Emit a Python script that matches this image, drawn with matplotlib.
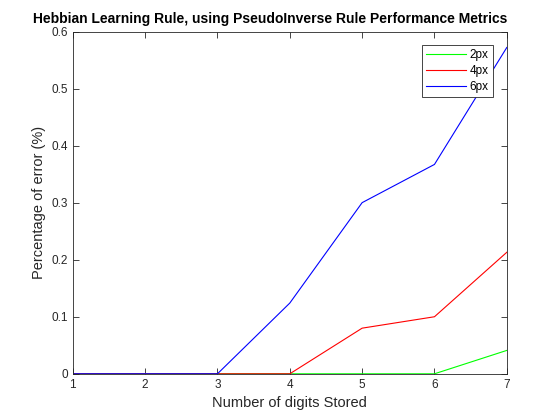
import matplotlib
matplotlib.use('Agg')
from matplotlib import pyplot as plt

plt.rcParams['font.family'] = ['Liberation Sans', 'DejaVu Sans']

digits = [1, 2, 3, 4, 5, 6, 7]
err_2px = [0, 0, 0, 0, 0, 0, 0.041]
err_4px = [0, 0, 0, 0, 0.080, 0.100, 0.213]
err_6px = [0, 0, 0, 0.124, 0.300, 0.367, 0.572]

fig = plt.figure(figsize=(5.6, 4.2), dpi=100)
ax = fig.add_axes([0.13, 0.11, 0.775, 0.815])

ax.plot(digits, err_2px, color='#00ff00', lw=0.8, label='2px')
ax.plot(digits, err_4px, color='#ff0000', lw=0.8, label='4px')
ax.plot(digits, err_6px, color='#0000ff', lw=0.8, label='6px')

ax.set_xlim(1, 7)
ax.set_ylim(0, 0.6)
ax.set_xticks(digits)
ax.set_yticks([0, 0.1, 0.2, 0.3, 0.4, 0.5, 0.6])
ax.set_yticklabels(['0', '0.1', '0.2', '0.3', '0.4', '0.5', '0.6'])
ax.tick_params(direction='in', length=4, width=0.6, labelsize=8.5, colors='#262626',
               top=True, right=True)
for s in ax.spines.values():
    s.set_linewidth(0.6)
    s.set_color('#262626')

ax.set_xlabel('Number of digits Stored', fontsize=10.5, color='#262626')
ax.set_ylabel('Percentage of error (%)', fontsize=10.5, color='#262626')
ax.set_title('Hebbian Learning Rule, using PseudoInverse Rule Performance Metrics',
             fontsize=10, fontweight='bold', pad=6, x=0.454)

leg = ax.legend(loc='upper right', bbox_to_anchor=(0.968, 0.962), fontsize=8.5,
                fancybox=False, framealpha=1, edgecolor='#262626', borderaxespad=0,
                handlelength=3.4, handletextpad=0.3, labelspacing=0.35, borderpad=0.35)
leg.get_frame().set_linewidth(0.6)

fig.savefig('out.png', dpi=100)
